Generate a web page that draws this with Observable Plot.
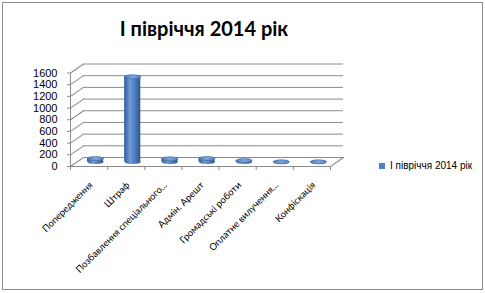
<!DOCTYPE html>
<html>
<head>
<meta charset="utf-8">
<script src="https://cdn.jsdelivr.net/npm/d3@7"></script>
<script src="https://cdn.jsdelivr.net/npm/@observablehq/plot@0.6"></script>
<style>
  html, body { margin: 0; padding: 0; background: #fff; }
  #wrap { position: absolute; left: 0; top: 0; width: 485px; height: 293px; overflow: hidden; background: #fff; }
  #border { position: absolute; left: 2px; top: 2px; width: 479px; height: 286px; border: 1px solid #8c8c8c; }
  #title { position: absolute; left: 0; top: 16px; width: 408px; text-align: center;
           font-family: Lato, "Open Sans", sans-serif; font-weight: bold; font-size: 20px; line-height: 24px; color: #000; }
  #chart { position: absolute; left: 0; top: 50px; }
  #legend { position: absolute; left: 379px; top: 149px; }
</style>
</head>
<body>
<svg width="0" height="0" style="position:absolute">
  <defs>
    <linearGradient id="cyl" x1="0" x2="1" y1="0" y2="0">
      <stop offset="0" stop-color="#2d5a93"/>
      <stop offset="0.35" stop-color="#6f9bd6"/>
      <stop offset="0.55" stop-color="#5a89c8"/>
      <stop offset="1" stop-color="#2b5690"/>
    </linearGradient>
    <linearGradient id="cylTop" x1="0" x2="1" y1="0" y2="0">
      <stop offset="0" stop-color="#5580bd"/>
      <stop offset="0.5" stop-color="#7aa3dc"/>
      <stop offset="1" stop-color="#5a86c4"/>
    </linearGradient>
  </defs>
</svg>
<div id="wrap">
  <div id="border"></div>
  <div id="title"></div>
  <div id="chart"></div>
  <div id="legend"></div>
</div>
<script>
const chartTitle = "І півріччя 2014 рік";
const seriesName = "І півріччя 2014 рік";
const categories = ["Попередження", "Штраф", "Позбавлення спеціального...", "Адмін. Арешт", "Громадські роботи", "Оплатне вилучення...", "Конфіскація"];
const values = [60, 1460, 55, 60, 25, 3, 3];
const yTicks = [0, 200, 400, 600, 800, 1000, 1200, 1400, 1600];

const barColor = "#4f81bd";
const gridColor = "#8a8a8a";
const depthDx = 13, depthDy = -9;
const font = "'Liberation Sans', Arial, sans-serif";
const labelFont = "Lato, 'Liberation Sans', sans-serif";

const data = categories.map((c, i) => ({i, c, v: values[i]}));
const boundaries = d3.range(categories.length + 1);
const centers = categories.map((_, i) => i + 0.5);

const ellipse = {
  draw(ctx, size) {
    const rx = Math.sqrt(size / Math.PI), ry = rx * 0.25, k = 0.5523;
    ctx.moveTo(-rx, 0);
    ctx.bezierCurveTo(-rx, -ry * k, -rx * k, -ry, 0, -ry);
    ctx.bezierCurveTo(rx * k, -ry, rx, -ry * k, rx, 0);
    ctx.bezierCurveTo(rx, ry * k, rx * k, ry, 0, ry);
    ctx.bezierCurveTo(-rx * k, ry, -rx, ry * k, -rx, 0);
    ctx.closePath();
  }
};

const depthLen = Math.hypot(depthDx, depthDy);
const depthAngle = Math.atan2(depthDx, -depthDy) * 180 / Math.PI;
const barInset = 10.5;

document.getElementById("title").textContent = chartTitle;

const plot = Plot.plot({
  width: 485,
  height: 240,
  marginLeft: 70,
  marginRight: 155,
  marginTop: 22.5,
  marginBottom: 124,
  x: {domain: [0, categories.length], axis: null},
  y: {domain: [0, 1600], axis: null},
  style: {fontFamily: font, color: "#000", background: "transparent", overflow: "visible"},
  marks: [
    Plot.ruleY(yTicks, {dx: depthDx, dy: depthDy, stroke: gridColor, strokeWidth: 1}),
    Plot.vector(yTicks, {y: d => d, frameAnchor: "left", length: depthLen, rotate: depthAngle, anchor: "start", shape: "arrow", r: 0, stroke: gridColor, strokeWidth: 1}),
    Plot.vector([0], {y: d => d, frameAnchor: "right", length: depthLen, rotate: depthAngle, anchor: "start", shape: "arrow", r: 0, stroke: gridColor, strokeWidth: 1}),
    Plot.ruleY([0], {stroke: gridColor}),
    Plot.ruleX([0], {y1: 0, y2: 1600, stroke: gridColor}),
    Plot.axisY({ticks: yTicks, tickSize: 3, tickPadding: 10, fontSize: 11, tickFormat: d => String(d), label: null, stroke: gridColor}),
    Plot.axisX({ticks: boundaries, tickSize: 4, tickFormat: () => "", label: null, stroke: gridColor}),
    Plot.axisX({ticks: centers, tickSize: 0, tickPadding: 17, tickRotate: -45, fontSize: 9.5, fontFamily: labelFont, dx: 2,
                tickFormat: d => categories[Math.round(d - 0.5)], label: null}),
    Plot.dot(data, {x: d => d.i + 0.5, y: () => 0, r: 8, symbol: ellipse, dx: depthDx / 2, dy: depthDy / 2, fill: "url(#cyl)", stroke: "none"}),
    Plot.rect(data, {x1: "i", x2: d => d.i + 1, y1: () => 0, y2: "v", insetLeft: barInset, insetRight: barInset,
                     dx: depthDx / 2, dy: depthDy / 2, fill: "url(#cyl)"}),
    Plot.dot(data, {x: d => d.i + 0.5, y: "v", r: 8, symbol: ellipse, dx: depthDx / 2, dy: depthDy / 2, fill: "url(#cylTop)", stroke: "#3b679f", strokeWidth: 0.6})
  ]
});
document.getElementById("chart").appendChild(plot);

const legend = Plot.legend({
  color: {type: "ordinal", domain: [seriesName], range: [barColor]},
  swatchSize: 6,
  style: {fontFamily: font, fontSize: "10px", color: "#000"}
});
document.getElementById("legend").appendChild(legend);
</script>
</body>
</html>
